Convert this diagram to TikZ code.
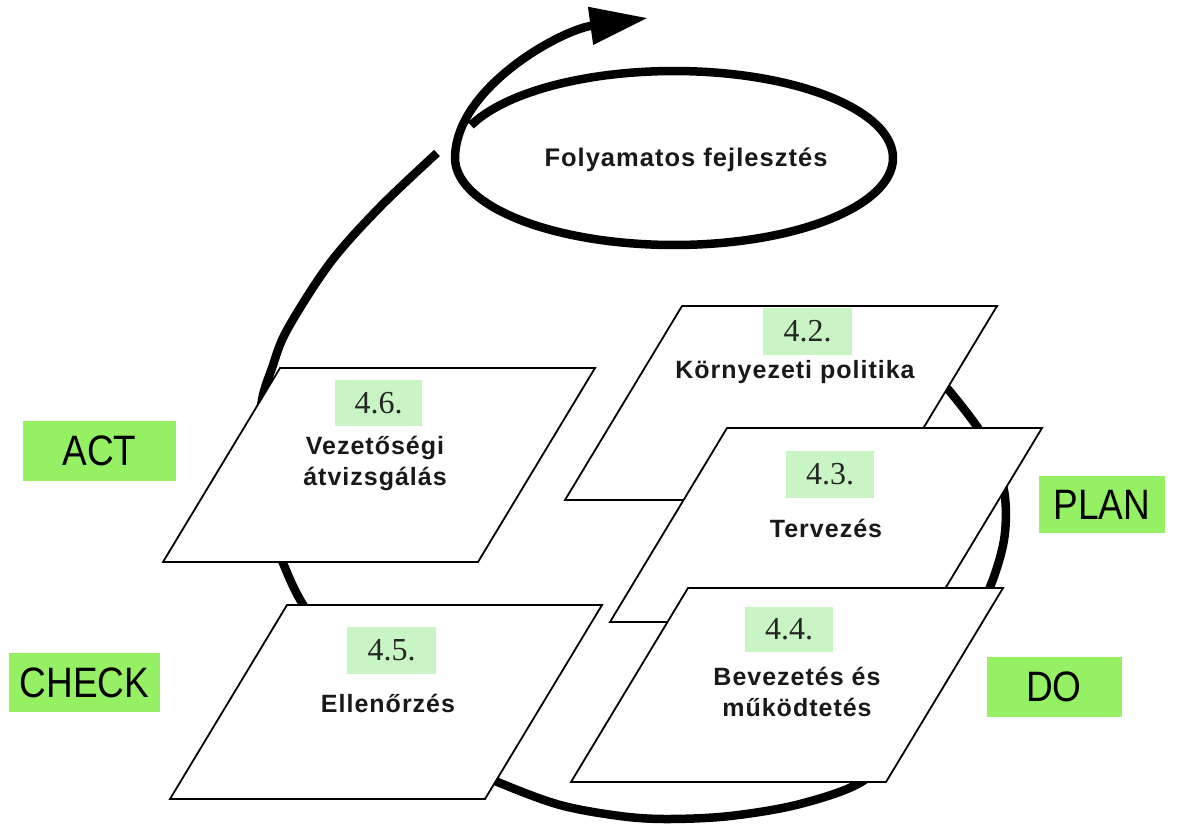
\documentclass[tikz,border=0pt]{standalone}
\usepackage{fontspec}
\usepackage{graphicx}
\setmainfont{Liberation Sans}
\newfontfamily\lblfont{Liberation Sans}[LetterSpace=4]
\newfontfamily\numfont{Liberation Serif}
\usetikzlibrary{arrows.meta}
\definecolor{stage}{RGB}{150,240,100}
\definecolor{clause}{RGB}{200,245,195}
\newcommand{\tallword}[1]{\scalebox{1}[1.15]{#1}}

\begin{document}
\begin{tikzpicture}[x=1pt,y=-1pt,
  plate/.pic={\path[draw=black,fill=white,line width=1.8pt,line join=miter]
      (0,0) -- (315,0) -- (198,194) -- (-117,194) -- cycle;},
  num/.style={fill=clause,minimum width=88pt,minimum height=46pt,inner sep=0pt,
      font=\numfont\fontsize{32}{32}\selectfont,text=black!85},
  lbl/.style={align=center,inner sep=0pt,
      font=\lblfont\bfseries\fontsize{25}{31}\selectfont,text=black!90},
  stagebox/.style={fill=stage,inner sep=0pt,font=\fontsize{37}{37}\selectfont,text=black},
  loop/.style={line width=8.5pt,line cap=butt,line join=round}
]
\useasboundingbox (0,0) rectangle (1183,825);

% the PDCA cycle running clockwise behind the clause plates
\draw[loop] plot[smooth,tension=0.55] coordinates {
  (915,352) (947,388) (978,428) (995,460) (1005,497) (1004,540) (990,587)
  (965,635) (935,685) (900,740) (863,781) (800,804) (730,816) (667,819)
  (620,816) (560,805) (500,783) (450,760) (400,720) (340,660) (302,603)
  (283,563) (263,510) (257,450) (262,400) (272,368) (287,330) (330,263)
  (380,207) (437,153)};

% continual improvement loop leaving as an arrow
\coordinate (tip) at (648,18);
\draw[loop,-{Triangle[length=58pt,width=36pt]}]
  plot[domain=-158:178,samples=90,smooth] ({674+219*cos(\x)},{158+87*sin(\x)})
  .. controls (452,90) and (560,30) .. (tip);
\node[lbl,font=\lblfont\bfseries\fontsize{25.5}{31}\selectfont] (improve) at (686,160) {Folyamatos fejlesztés};

% clause plates
\pic (p42) at (682,306) {plate};
\pic (p43) at (727,428) {plate};
\pic (p44) at (688,588) {plate};
\pic (p46) at (280,368) {plate};
\pic (p45) at (287,605) {plate};

\node[num,minimum width=89pt,minimum height=47pt] (n42) at (807.5,331.5) {4.2.};
\node[lbl] (t42) at (795,372) {Környezeti politika};

\node[num,minimum height=47pt] (n43) at (830,474.5) {4.3.};
\node[lbl] (t43) at (826,528) {Tervezés};

\node[num,minimum height=45pt] (n44) at (789,629.5) {4.4.};
\node[lbl] (t44) at (797,692) {Bevezetés és\\működtetés};

\node[num,minimum width=89pt,minimum height=47pt] (n45) at (391.5,650.5) {4.5.};
\node[lbl] (t45) at (388,703) {Ellenőrzés};

\node[num,minimum width=87pt] (n46) at (378.5,403) {4.6.};
\node[lbl] (t46) at (375,463) {Vezetőségi\\átvizsgálás};

% PDCA stage labels
\node[stagebox,minimum width=153pt,minimum height=60pt] (act) at (99.5,451) {\tallword{ACT}};
\node[stagebox,minimum width=151pt,minimum height=59pt] (check) at (84.5,682.5) {\tallword{CHECK}};
\node[stagebox,minimum width=126pt,minimum height=57pt] (plan) at (1102,504.5) {\tallword{PLAN}};
\node[stagebox,minimum width=135pt,minimum height=60pt] (do) at (1054,687) {\tallword{DO}};
\end{tikzpicture}
\end{document}
